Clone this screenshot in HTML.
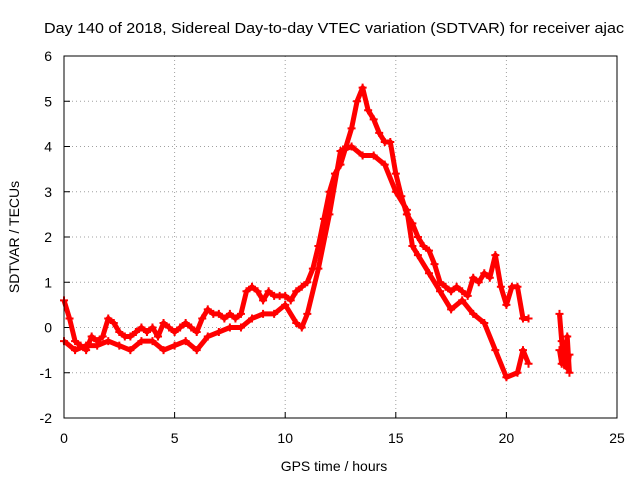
<!DOCTYPE html>
<html><head><meta charset="utf-8"><style>
body{margin:0;background:#fff;}
svg{display:block;font-family:"Liberation Sans",sans-serif;}
</style></head><body>
<svg id="chart" width="640" height="480">
<text x="44" y="33" font-size="15" textLength="580" lengthAdjust="spacingAndGlyphs">Day 140 of 2018, Sidereal Day-to-day VTEC variation (SDTVAR) for receiver ajac</text>
<g id="grid"></g><g id="ticks"></g><g id="marks"></g>
<rect x="64" y="56" width="553" height="362" fill="none" stroke="#000" stroke-width="1"/>
<text x="334" y="471" font-size="14" text-anchor="middle">GPS time / hours</text>
<text x="19" y="237" font-size="14" text-anchor="middle" transform="rotate(-90 19 237)">SDTVAR / TECUs</text>
</svg>
<script>
const xTicks=[0,5,10,15,20,25];
const yTicks=[-2,-1,0,1,2,3,4,5,6];
const upperT=[0,0.25,0.5,0.75,1,1.25,1.5,1.75,2,2.25,2.5,2.75,3,3.25,3.5,3.75,4,4.25,4.5,4.75,5,5.25,5.5,5.75,6,6.25,6.5,6.75,7,7.25,7.5,7.75,8,8.25,8.5,8.75,9,9.25,9.5,9.75,10,10.25,10.5,10.75,11,11.25,11.5,11.75,12,12.25,12.5,12.75,13,13.25,13.5,13.75,14,14.25,14.5,14.75,15,15.25,15.5,15.75,16,16.25,16.5,16.75,17,17.25,17.5,17.75,18,18.25,18.5,18.75,19,19.25,19.5,19.75,20,20.25,20.5,20.75,21];
const upperV=[0.6,0.2,-0.3,-0.4,-0.5,-0.2,-0.3,-0.2,0.2,0.1,-0.1,-0.2,-0.2,-0.1,0,-0.1,0,-0.2,0.1,0,-0.1,0,0.1,0,-0.1,0.2,0.4,0.3,0.3,0.2,0.3,0.2,0.3,0.8,0.9,0.8,0.6,0.8,0.7,0.7,0.7,0.6,0.8,0.9,1.0,1.3,1.8,2.4,3.0,3.4,3.6,4.0,4.4,5.0,5.3,4.8,4.6,4.3,4.1,4.1,3.4,2.9,2.5,2.3,2.0,1.8,1.7,1.4,1.0,0.9,0.8,0.9,0.8,0.7,1.1,1.0,1.2,1.1,1.6,0.9,0.5,0.9,0.9,0.2,0.2];
const lowerT=[0,0.5,1,1.5,2,2.5,3,3.5,4,4.5,5,5.5,6,6.5,7,7.5,8,8.5,9,9.5,10,10.5,10.75,11,11.5,12,12.5,13,13.5,14,14.5,15,15.5,15.75,16,16.5,17,17.5,18,18.5,19,19.5,20,20.5,20.75,21];
const lowerV=[-0.3,-0.5,-0.4,-0.4,-0.3,-0.4,-0.5,-0.3,-0.3,-0.5,-0.4,-0.3,-0.5,-0.2,-0.1,0,0,0.2,0.3,0.3,0.5,0.1,0,0.3,1.3,2.5,3.9,4.0,3.8,3.8,3.6,3.0,2.6,1.8,1.6,1.2,0.8,0.4,0.6,0.3,0.1,-0.5,-1.1,-1.0,-0.5,-0.8];
const lateT=[22.4,22.5,22.6,22.75,22.85];
const lateV=[0.3,-0.3,-0.8,-0.2,-1.0];
const lateV2=[-0.5,-0.8,-0.4,-0.9,-0.6];
const X=t=>64+t*553/25, Y=v=>56+(6-v)*362/8;
const NS='http://www.w3.org/2000/svg';
function mk(tag,attrs,parent){const e=document.createElementNS(NS,tag);for(const k in attrs)e.setAttribute(k,attrs[k]);document.getElementById(parent).appendChild(e);return e;}
xTicks.forEach(t=>{
  const g=mk('line',{x1:X(t),x2:X(t),y1:56,y2:418,stroke:'#a0a0a0','stroke-dasharray':'1,3'},'grid');
  
  
  const tk=mk('line',{x1:X(t),x2:X(t),y1:418,y2:412,stroke:'#000'},'ticks');
  
  
  const l=mk('text',{x:X(t),y:443,'font-size':14,'text-anchor':'middle'},'ticks');
  l.textContent=t;
  
  
});
yTicks.forEach(v=>{
  const g=mk('line',{x1:64,x2:617,y1:Y(v),y2:Y(v),stroke:'#a0a0a0','stroke-dasharray':'1,3'},'grid');
  
  
  const tk=mk('line',{x1:64,x2:70,y1:Y(v),y2:Y(v),stroke:'#000'},'ticks');
  
  
  const l=mk('text',{x:52,y:Y(v)+5,'font-size':14,'text-anchor':'end'},'ticks');
  l.textContent=v;
  
  
});
function series(ts,vs,name){
  const pts=ts.map((t,i)=>X(t)+','+Y(vs[i])).join(' ');
  const pl=mk('polyline',{points:pts,fill:'none',stroke:'#f00','stroke-width':5,'stroke-linejoin':'round'},'marks');
  
  
  ts.forEach((t,i)=>{
    const x=X(t),y=Y(vs[i]);
    const p=mk('path',{d:`M${x-4},${y}h8M${x},${y-4}v8`,stroke:'#f00','stroke-width':2},'marks');
    
    
  });
}
series(upperT,upperV,'upper-track');
series(lowerT,lowerV,'lower-track');
series(lateT,lateV,'late-track');
series(lateT,lateV2,'late-track-2');
</script>
</body></html>
